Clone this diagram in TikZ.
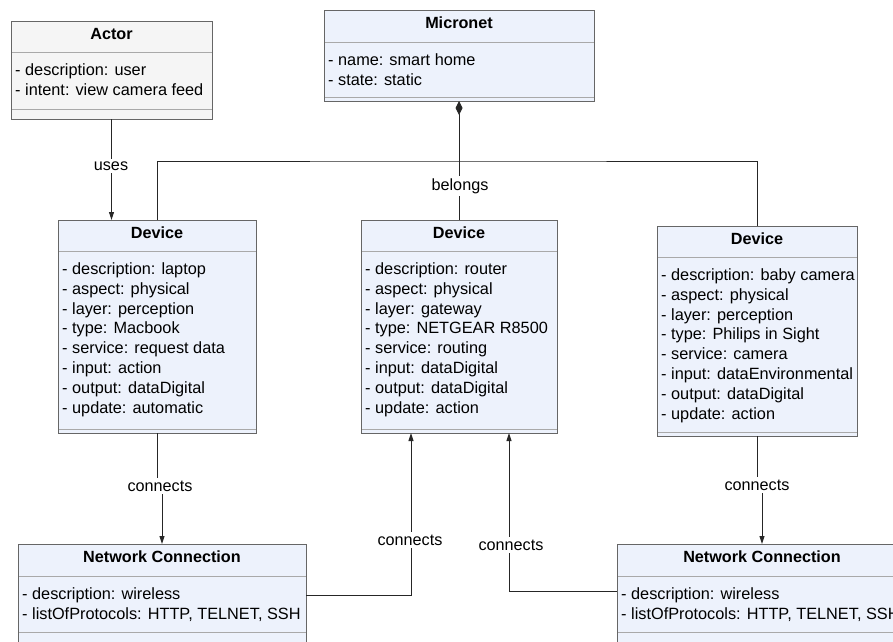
\documentclass[tikz,border=0pt]{standalone}
\usepackage{fontspec}
\setmainfont{Liberation Sans}
\usetikzlibrary{arrows.meta}
\definecolor{boxfill}{HTML}{EDF2FC}
\definecolor{actorfill}{HTML}{F5F5F5}
\definecolor{boxline}{HTML}{666666}
\definecolor{sepcol}{HTML}{A9A9A9}
\definecolor{linecol}{HTML}{262626}
\def\curfill{boxfill}
\tikzset{
  umlbox/.style={fill=\curfill, draw=none, inner sep=0pt, outer sep=0pt},
  boxborder/.style={draw=boxline, line width=1pt},
  sepline/.style={draw=sepcol, line width=1pt},
  titletext/.style={font=\bfseries\fontsize{16.2pt}{19.85pt}\selectfont, inner sep=0pt, text=black},
  attrtext/.style={font=\fontsize{16.3pt}{19.85pt}\selectfont, inner sep=0pt, text=black},
  conn/.style={draw=linecol, line width=1pt},
  arr/.style={-{Triangle[length=8pt,width=5pt]}},
  lbl/.style={fill=white, inner sep=2.5pt, font=\fontsize{16.2pt}{19.85pt}\selectfont, text=black},
}
% #1 name #2 left #3 top #4 right #5 bottom #6 header sep #7 attr sep #8 title #9 attrs
\newcommand\umlclass[9]{%
  \node[umlbox, minimum width={(#4-#2)*1pt}, minimum height={(#5-#3)*1pt}, anchor=north west] (#1) at (#2,#3) {};
  \draw[sepline] (#2,#6) -- (#4,#6);
  \draw[sepline] (#2,#7) -- (#4,#7);
  \draw[boxborder] (#1.north west) rectangle (#1.south east);
  \node[titletext, anchor=base] (#1-title) at ({(#2+#4)/2},{#3+18.5}) {#8};
  \foreach[count=\i] \t in {#9} {\node[attrtext, anchor=base west] (#1-attr\i) at ({#2+4},{#6+23.3+(\i-1)*19.85}) {\t};}
}
\begin{document}
\begin{tikzpicture}[x=1pt,y=-1pt]
\useasboundingbox (0,0) rectangle (893,641);
\fill[white] (0,0) rectangle (893,641);

\def\curfill{actorfill}
\umlclass{actor}{11}{21}{212}{119}{52}{109}{Actor}{{- description: user},{- intent: view camera feed}}
\def\curfill{boxfill}
\umlclass{micro}{324}{10}{594}{101}{42}{97}{Micronet}{{- name: smart home},{- state: static}}
\umlclass{dev1}{58}{220}{256}{433}{251}{429}{Device}{{- description: laptop},{- aspect: physical},{- layer: perception},{- type: Macbook},{- service: request data},{- input: action},{- output: dataDigital},{- update: automatic}}
\umlclass{dev2}{361}{220}{557}{433}{251}{429}{Device}{{- description: router},{- aspect: physical},{- layer: gateway},{- type: NETGEAR R8500},{- service: routing},{- input: dataDigital},{- output: dataDigital},{- update: action}}
\umlclass{dev3}{657}{226}{857}{436}{257}{432}{Device}{{- description: baby camera},{- aspect: physical},{- layer: perception},{- type: Philips in Sight},{- service: camera},{- input: dataEnvironmental},{- output: dataDigital},{- update: action}}
\umlclass{nc1}{18}{544}{306}{646}{576}{632}{Network Connection}{{- description: wireless},{- listOfProtocols: HTTP, TELNET, SSH}}
\umlclass{nc2}{617}{544}{907}{646}{576}{632}{Network Connection}{{- description: wireless},{- listOfProtocols: HTTP, TELNET, SSH}}

% uses
\draw[conn, arr] (actor.south) -- (actor.south |- dev1.north);
\node[lbl] (l-uses) at (111,166) {uses};

% composition
\coordinate (j) at (459,161);
\draw[conn, {Diamond[length=14pt,width=7pt]}-] (micro.south) -- (j);
\draw[conn] (dev1.north) |- (j) -| (dev3.north);
\draw[conn] (j) -- (dev2.north);
\node[lbl] (l-belongs) at (460,186) {belongs};

% connects
\draw[conn, arr] (dev1.south) -- ++(0,55) -| (nc1.north);
\node[lbl] (l-c1) at (160,486) {connects};
\draw[conn, arr] (dev3.south) -- ++(0,50) -| (nc2.north);
\node[lbl] (l-c4) at (757,485) {connects};
\draw[conn, arr] (nc1.east) -| ([xshift=-48pt]dev2.south);
\node[lbl] (l-c2) at (410,540) {connects};
\draw[conn, arr] ([yshift=4pt]nc2.west) -| ([xshift=50pt]dev2.south);
\node[lbl] (l-c3) at (511,545) {connects};
\end{tikzpicture}
\end{document}
